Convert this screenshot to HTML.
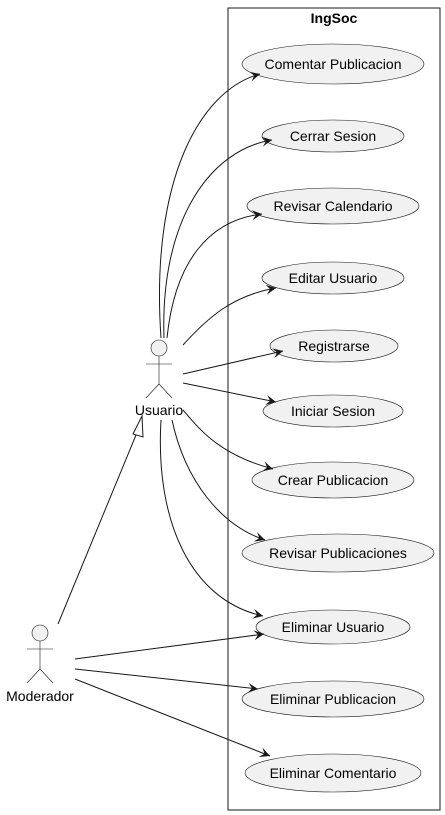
<!DOCTYPE html>
<html><head><meta charset="utf-8"><style>body{margin:0;background:#fff}svg{display:block}text{font-family:"Liberation Sans",sans-serif;font-size:14px;fill:#000}</style></head><body>
<svg width="445" height="815" viewBox="0 0 445 815" xmlns="http://www.w3.org/2000/svg">
<defs><marker id="a" markerWidth="12" markerHeight="10" refX="10" refY="5" orient="auto" markerUnits="userSpaceOnUse"><path d="M0,0 L10,5 L0,10 L4,5 Z" fill="#181818"/></marker></defs>
<rect x="228" y="8" width="212" height="802" fill="none" stroke="#181818" stroke-width="1"/>
<text x="334" y="23" text-anchor="middle" font-weight="bold">IngSoc</text>
<g fill="#f1f1f1" stroke="#181818" stroke-width="0.6">
<ellipse cx="333" cy="64" rx="91" ry="20"/>
<ellipse cx="333" cy="136" rx="71" ry="16"/>
<ellipse cx="333" cy="206" rx="86" ry="18"/>
<ellipse cx="333" cy="278" rx="71" ry="16"/>
<ellipse cx="334" cy="346" rx="64" ry="16"/>
<ellipse cx="333" cy="411" rx="70" ry="16"/>
<ellipse cx="333" cy="480" rx="81" ry="18"/>
<ellipse cx="338" cy="553" rx="96" ry="19"/>
<ellipse cx="333" cy="627" rx="77" ry="17"/>
<ellipse cx="333" cy="699" rx="91" ry="18"/>
<ellipse cx="333" cy="773" rx="88" ry="19"/>
</g>
<g text-anchor="middle">
<text x="333" y="69">Comentar Publicacion</text>
<text x="333" y="141">Cerrar Sesion</text>
<text x="333" y="211">Revisar Calendario</text>
<text x="333" y="283">Editar Usuario</text>
<text x="334" y="351">Registrarse</text>
<text x="333" y="416">Iniciar Sesion</text>
<text x="333" y="485">Crear Publicacion</text>
<text x="338" y="558">Revisar Publicaciones</text>
<text x="333" y="632">Eliminar Usuario</text>
<text x="333" y="704">Eliminar Publicacion</text>
<text x="333" y="778">Eliminar Comentario</text>
</g>
<g fill="none" stroke="#181818" stroke-width="1">
<path d="M161,338 C150,180 200,90 260,74" marker-end="url(#a)"/>
<path d="M164,338 C160,220 210,150 272,140" marker-end="url(#a)"/>
<path d="M167,338 C175,260 210,220 262,214" marker-end="url(#a)"/>
<path d="M183,345 C210,315 235,295 276,288" marker-end="url(#a)"/>
<path d="M183,374 L283,351" marker-end="url(#a)"/>
<path d="M183,383 L276,402" marker-end="url(#a)"/>
<path d="M183,410 C200,430 220,455 273,469" marker-end="url(#a)"/>
<path d="M172,420 C185,480 220,525 265,540" marker-end="url(#a)"/>
<path d="M161,420 C155,520 190,600 263,616" marker-end="url(#a)"/>
<path d="M75,659 L264,634" marker-end="url(#a)"/>
<path d="M75,669 L258,689" marker-end="url(#a)"/>
<path d="M75,679 L270,756" marker-end="url(#a)"/>
<path d="M58,624 L136,435"/>
<path d="M133,434 L142,416 L143,437 Z" fill="#fff"/>
</g>
<g fill="#f1f1f1" stroke="#181818" stroke-width="0.6">
<circle cx="159" cy="348" r="8"/>
<circle cx="40" cy="633" r="8"/>
</g>
<g fill="none" stroke="#181818" stroke-width="0.6">
<path d="M159,356 V384 M146,364 H172 M146,398 L159,384 L172,398"/>
<path d="M40,641 V669 M27,649 H53 M27,683 L40,669 L53,683"/>
</g>
<text x="159" y="415" text-anchor="middle">Usuario</text>
<text x="40" y="701" text-anchor="middle">Moderador</text>
</svg>
</body></html>
